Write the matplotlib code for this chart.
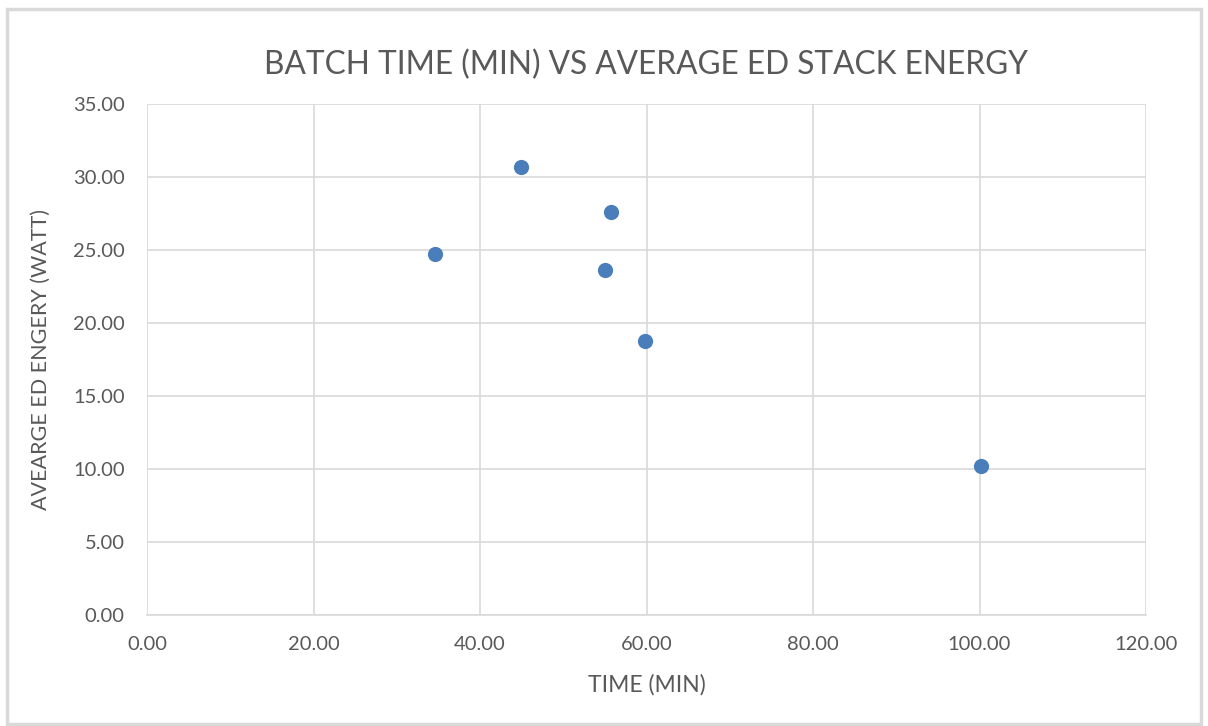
import numpy as np
import matplotlib
matplotlib.use('Agg')
from matplotlib import pyplot as plt
from matplotlib.patches import Rectangle

# values
batch_time = [34.6, 44.9, 55.7, 55.0, 59.8, 100.2]
avg_energy = [24.7, 30.7, 27.6, 23.6, 18.8, 10.2]

x_ticks = np.arange(0, 121, 20)
y_ticks = np.arange(0, 36, 5)

plt.rcParams['font.family'] = ['Lato', 'DejaVu Sans']
txt = '#595959'
grid = '#d9d9d9'

fig = plt.figure(figsize=(12.08, 7.26), dpi=100)
fig.patches.append(Rectangle((0.006, 0.003), 0.988, 0.985, transform=fig.transFigure,
                             fill=False, edgecolor='#d9d9d9', linewidth=2.5))

ax = fig.add_axes([0.1217, 0.1529, 0.8270, 0.7038])
ax.scatter(batch_time, avg_energy, s=120, color='#4a7ebb', zorder=3, linewidths=0)

ax.set_xlim(0, 120)
ax.set_ylim(0, 35)
ax.set_xticks(x_ticks)
ax.set_yticks(y_ticks)
ax.set_xticklabels(['%.2f' % v for v in x_ticks])
ax.set_yticklabels(['%.2f' % v for v in y_ticks])
ax.tick_params(length=0, labelsize=14.5, labelcolor=txt)
ax.tick_params(axis='y', pad=16)
ax.tick_params(axis='x', pad=15)
ax.grid(True, color=grid, linewidth=1.2)
ax.set_axisbelow(True)
for s in ['top', 'right', 'left']:
    ax.spines[s].set_visible(False)
ax.spines['bottom'].set_color(grid)
ax.spines['bottom'].set_linewidth(1.2)

ax.set_xlabel('TIME (MIN)', fontsize=16.5, color=txt, labelpad=15)
ax.set_ylabel('AVEARGE ED ENGERY (WATT)', fontsize=15.5, color=txt, labelpad=16)
fig.text(0.535, 0.910, 'BATCH TIME (MIN) VS AVERAGE ED STACK ENERGY', fontsize=22.8,
         color=txt, ha='center', va='center')

plt.savefig('out.png', dpi=100)
